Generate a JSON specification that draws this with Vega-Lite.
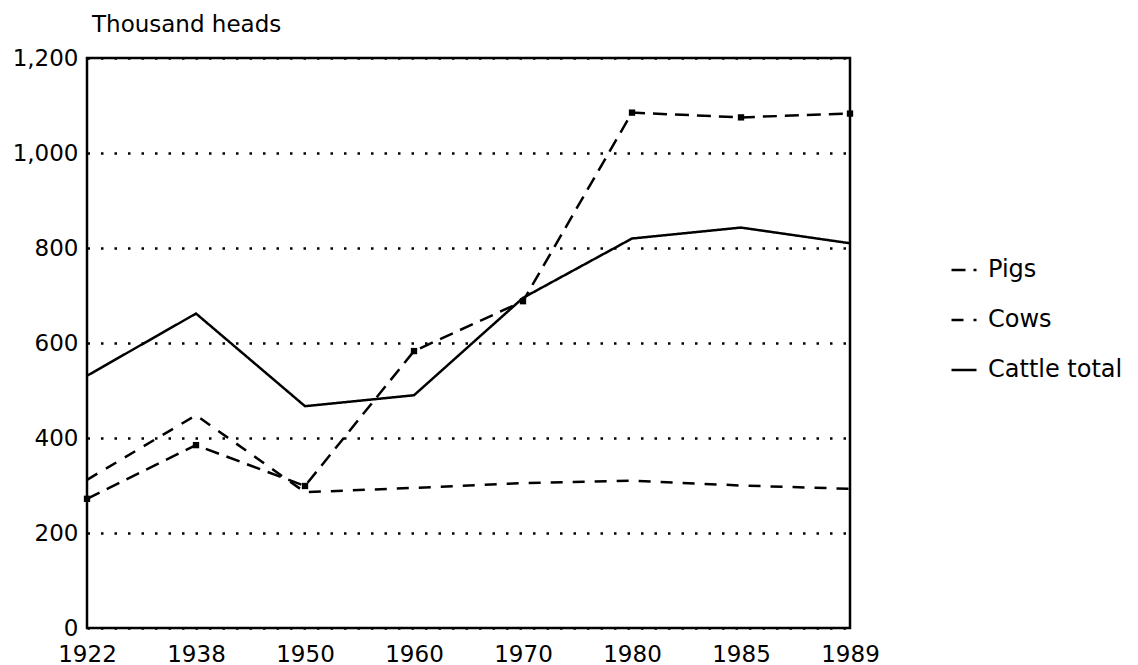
{
  "$schema": "https://vega.github.io/schema/vega-lite/v6.json",
  "autosize": {"type": "none"},
  "padding": {"left": 87, "top": 58, "right": 288, "bottom": 37},
  "width": 763,
  "height": 570,
  "background": "white",
  "title": {"text": "Thousand heads", "anchor": "start", "frame": "group", "dx": 5, "offset": 10, "fontSize": 23, "font": "DejaVu Sans", "fontWeight": "normal", "color": "black"},
  "config": {
    "view": {"stroke": "black", "strokeWidth": 2.5},
    "font": "DejaVu Sans",
    "axis": {"labelFont": "DejaVu Sans", "labelFontSize": 23, "labelColor": "black", "domain": false, "ticks": false, "title": null}
  },
  "data": {
    "values": [
      {"year": "1922", "series": "Pigs", "value": 272},
      {"year": "1938", "series": "Pigs", "value": 385},
      {"year": "1950", "series": "Pigs", "value": 299},
      {"year": "1960", "series": "Pigs", "value": 583},
      {"year": "1970", "series": "Pigs", "value": 688},
      {"year": "1980", "series": "Pigs", "value": 1085},
      {"year": "1985", "series": "Pigs", "value": 1075},
      {"year": "1989", "series": "Pigs", "value": 1083},
      {"year": "1922", "series": "Cows", "value": 312},
      {"year": "1938", "series": "Cows", "value": 448},
      {"year": "1950", "series": "Cows", "value": 286},
      {"year": "1960", "series": "Cows", "value": 295},
      {"year": "1970", "series": "Cows", "value": 305},
      {"year": "1980", "series": "Cows", "value": 310},
      {"year": "1985", "series": "Cows", "value": 300},
      {"year": "1989", "series": "Cows", "value": 293},
      {"year": "1922", "series": "Cattle total", "value": 531},
      {"year": "1938", "series": "Cattle total", "value": 662},
      {"year": "1950", "series": "Cattle total", "value": 467},
      {"year": "1960", "series": "Cattle total", "value": 490},
      {"year": "1970", "series": "Cattle total", "value": 695},
      {"year": "1980", "series": "Cattle total", "value": 820},
      {"year": "1985", "series": "Cattle total", "value": 843},
      {"year": "1989", "series": "Cattle total", "value": 810}
    ]
  },
  "encoding": {
    "x": {"field": "year", "type": "ordinal", "sort": null, "scale": {"type": "point", "padding": 0},
          "axis": {"labelAngle": 0, "labelPadding": 15, "grid": false}},
    "y": {"field": "value", "type": "quantitative", "scale": {"domain": [0, 1200], "nice": false},
          "axis": {"values": [0, 200, 400, 600, 800, 1000, 1200], "format": ",.0f", "labelPadding": 9,
                   "grid": true, "gridColor": "black", "gridDash": [2.5, 11], "gridWidth": 2.5, "gridOpacity": 1}}
  },
  "layer": [
    {
      "mark": {"type": "line", "color": "black", "strokeWidth": 2.5},
      "encoding": {
        "strokeDash": {"field": "series", "type": "nominal",
          "scale": {"domain": ["Pigs", "Cows", "Cattle total"], "range": [[14, 8], [12, 10], [1, 0]]},
          "legend": {"title": null, "orient": "none", "legendX": 863, "legendY": 198, "symbolType": "stroke",
                     "symbolSize": 625, "symbolStrokeWidth": 2.5, "symbolStrokeColor": "black",
                     "labelFontSize": 24, "labelFont": "DejaVu Sans", "labelColor": "black", "labelOffset": 10, "rowPadding": 24}}
      }
    },
    {
      "transform": [{"filter": "datum.series === 'Pigs'"}],
      "mark": {"type": "point", "shape": "square", "filled": true, "color": "black", "size": 40, "opacity": 1}
    }
  ]
}
